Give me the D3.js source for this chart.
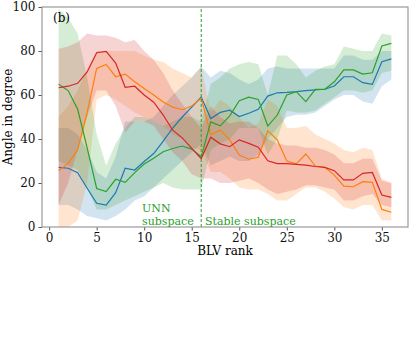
<!DOCTYPE html>
<html>
<head>
<meta charset="utf-8">
<script src="https://cdn.jsdelivr.net/npm/d3@7"></script>
<style>
  body { margin: 0; background: white; }
  text { font-family: "DejaVu Serif", serif; }
</style>
</head>
<body>
<div id="chart"></div>
<script>
// BLV rank 1..36
const ranks = d3.range(1, 37);

// medians (lines)
const blue = [27.1, 26.7, 24.7, 17.6, 10.8, 10, 15.6, 26.7, 25.9, 29.8, 33.4, 39, 45, 50, 54.5, 59.1, 49.3, 52.1, 53.1, 50.2, 51.7, 53.5, 59.5, 61, 61.2, 61.5, 62, 62.3, 62.6, 64.1, 68.3, 68.3, 65.6, 64.8, 75.1, 76.4];
const orange = [25.7, 28.9, 35, 52, 72.1, 73.9, 68.3, 69.5, 66, 63, 60, 56.8, 54.5, 53.3, 55, 58.5, 42, 44, 39.6, 32.7, 30.8, 31.7, 43.7, 39.6, 30, 28.7, 33.2, 27.7, 27.1, 23.6, 18.6, 18.3, 20.6, 20.3, 8, 6.7];
const green = [64.9, 62, 53.5, 36, 17.5, 16.1, 21.7, 20.3, 24.7, 28.6, 31.2, 34.2, 35.7, 36.8, 35.4, 32, 47.8, 46, 50.5, 57.4, 59, 58, 45.9, 50.9, 60, 61.5, 57, 62.6, 62.6, 66, 71.4, 71.4, 69.5, 70.1, 82.3, 83.5];
const red = [63.3, 64, 65.3, 70.5, 79.2, 79.8, 74.5, 63.5, 64, 60, 56.7, 50.9, 44, 40.5, 35.7, 31.1, 40.8, 37.8, 36.5, 39.6, 38, 36.3, 30.1, 28.8, 28.8, 28.5, 28.1, 27.5, 27.1, 25.6, 21.4, 21.4, 24.4, 24.8, 14.5, 13.5];

// spread bands (lower / upper)
const blueLo = [10, 10, 8, 5, 4, 3, 5, 8, 12, 14, 18, 22, 26, 30, 34, 38, 28, 30, 32, 30, 30, 33, 40, 45, 50, 51, 51, 52, 55, 58, 60, 60, 57, 56, 64, 67];
const blueHi = [45, 45, 42, 35, 25, 22, 32, 48, 48, 48, 50, 55, 60, 64, 68, 73, 68, 71, 70, 67, 65, 67, 72, 73, 72, 72, 72, 72, 72, 72, 78, 78, 76, 76, 80, 80];
const orangeLo = [0, 0, 3, 20, 58, 60, 58, 55, 52, 50, 48, 46, 42, 40, 36, 35, 25, 25, 22, 18, 17, 17, 15, 12, 12, 15, 18, 18, 16, 13, 9, 8, 10, 10, 3, 3];
const orangeHi = [50, 55, 62, 72, 80, 80, 80, 80, 80, 78, 76, 75, 72, 70, 68, 73, 52, 58, 55, 50, 45, 47, 58, 55, 45, 45, 46, 42, 40, 38, 35, 34, 36, 35, 22, 20];
const greenLo = [30, 28, 26, 18, 8, 8, 10, 12, 14, 16, 18, 20, 18, 17, 17, 17, 35, 38, 40, 45, 45, 45, 33, 40, 53, 52, 52, 53, 56, 59, 62, 62, 61, 62, 70, 71];
const greenHi = [99, 95, 88, 68, 42, 28, 38, 45, 50, 50, 48, 46, 48, 50, 50, 48, 65, 68, 72, 74, 75, 74, 60, 78, 78, 74, 68, 71, 73, 74, 82, 81, 80, 80, 88, 87];
const redLo = [10, 20, 35, 50, 62, 62, 55, 43, 48, 48, 46, 40, 34, 30, 24, 22, 22, 20, 20, 21, 22, 20, 17, 15, 16, 17, 19, 19, 18, 17, 12, 12, 14, 15, 10, 9];
const redHi = [81, 82, 84, 88, 87, 87, 86, 84, 85, 80, 76, 70, 62, 56, 50, 45, 55, 50, 47, 48, 48, 45, 40, 38, 37, 37, 36, 36, 35, 33, 29, 29, 31, 31, 21, 20];

const xTicks = [0, 5, 10, 15, 20, 25, 30, 35];
const yTicks = [0, 20, 40, 60, 80, 100];
const splitRank = 16;

const series = [
  { name: "blue", color: "#1f77b4", mid: blue, lo: blueLo, hi: blueHi },
  { name: "orange", color: "#ff7f0e", mid: orange, lo: orangeLo, hi: orangeHi },
  { name: "green", color: "#2ca02c", mid: green, lo: greenLo, hi: greenHi },
  { name: "red", color: "#d62728", mid: red, lo: redLo, hi: redHi }
];

const width = 411;
const height = 340;
const margin = { top: 7, right: 3, bottom: 113, left: 42 };

const svg = d3.select("#chart")
  .append("svg")
  .attr("width", width)
  .attr("height", height)
  .style("background", "white");

const x = d3.scaleLinear()
  .domain([-0.75, 37.75])
  .range([margin.left, width - margin.right]);

const y = d3.scaleLinear()
  .domain([0, 100])
  .range([height - margin.bottom, margin.top]);

// bands
const area = d3.area()
  .x(d => x(d.r))
  .y0(d => y(d.lo))
  .y1(d => y(d.hi));

series.forEach(s => {
  const pts = ranks.map((r, i) => ({ r: r, lo: s.lo[i], hi: s.hi[i] }));
  svg.append("path")
    .datum(pts)
    .attr("d", area)
    .attr("fill", s.color)
    .attr("fill-opacity", 0.2)
    .attr("stroke", "none");
});

// lines
const line = d3.line()
  .x(d => x(d.r))
  .y(d => y(d.v));

series.forEach(s => {
  svg.append("path")
    .datum(ranks.map((r, i) => ({ r: r, v: s.mid[i] })))
    .attr("d", line)
    .attr("fill", "none")
    .attr("stroke", s.color)
    .attr("stroke-width", 1.2);
});

// vertical split line
svg.append("line")
  .attr("x1", x(splitRank))
  .attr("x2", x(splitRank))
  .attr("y1", y(0))
  .attr("y2", y(100))
  .attr("stroke", "#2ca02c")
  .attr("stroke-width", 1)
  .attr("stroke-dasharray", "3,2");

// axes
const xAxis = svg.append("g")
  .attr("transform", `translate(0,${height - margin.bottom})`)
  .call(d3.axisBottom(x).tickValues(xTicks).tickSize(3.5).tickPadding(3));

const yAxis = svg.append("g")
  .attr("transform", `translate(${margin.left},0)`)
  .call(d3.axisLeft(y).tickValues(yTicks).tickSize(3.5).tickPadding(3));

[xAxis, yAxis].forEach(g => {
  g.select(".domain").remove();
  g.selectAll(".tick line").attr("stroke", "#555");
  g.selectAll(".tick text")
    .attr("fill", "#111")
    .style("font-family", "DejaVu Serif")
    .style("font-size", "12px");
});

// frame
svg.append("rect")
  .attr("x", margin.left)
  .attr("y", margin.top)
  .attr("width", width - margin.left - margin.right)
  .attr("height", height - margin.top - margin.bottom)
  .attr("fill", "none")
  .attr("stroke", "#999")
  .attr("stroke-width", 1.2);

// labels
svg.append("text")
  .attr("x", (margin.left + width - margin.right) / 2)
  .attr("y", 255)
  .attr("text-anchor", "middle")
  .style("font-size", "12px")
  .text("BLV rank");

svg.append("text")
  .attr("transform", `translate(12,${(margin.top + height - margin.bottom) / 2}) rotate(-90)`)
  .attr("text-anchor", "middle")
  .style("font-size", "12px")
  .text("Angle in degree");

svg.append("text")
  .attr("x", 53)
  .attr("y", 22)
  .style("font-size", "12px")
  .text("(b)");

// subspace annotations
svg.append("text")
  .attr("x", 142)
  .attr("y", 212)
  .attr("fill", "#2ca02c")
  .style("font-size", "11px")
  .text("UNN");

svg.append("text")
  .attr("x", 142)
  .attr("y", 225)
  .attr("fill", "#2ca02c")
  .style("font-size", "11px")
  .text("subspace");

svg.append("text")
  .attr("x", 205)
  .attr("y", 225)
  .attr("fill", "#2ca02c")
  .style("font-size", "11px")
  .text("Stable subspace");
</script>
</body>
</html>
